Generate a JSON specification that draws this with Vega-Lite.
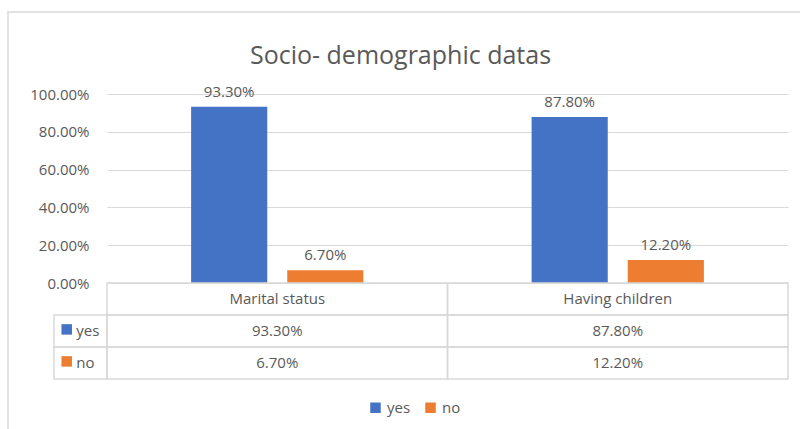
{
  "$schema": "https://vega.github.io/schema/vega-lite/v6.json",
  "width": 681,
  "height": 189,
  "autosize": {"type": "none"},
  "padding": {"left": 107, "top": 94, "right": 12, "bottom": 146},
  "background": "white",
  "title": {
    "text": "Socio- demographic datas",
    "font": "Open Sans",
    "fontSize": 25,
    "fontWeight": "normal",
    "color": "#595959",
    "anchor": "middle",
    "dx": -47,
    "offset": -58
  },
  "datasets": {
    "bars": [
      {"category": "Marital status", "answer": "yes", "value": 0.933},
      {"category": "Marital status", "answer": "no", "value": 0.067},
      {"category": "Having children", "answer": "yes", "value": 0.878},
      {"category": "Having children", "answer": "no", "value": 0.122}
    ],
    "header": [
      {"category": "Marital status", "row": "header"},
      {"category": "Having children", "row": "header"}
    ],
    "series": [
      {"answer": "yes"},
      {"answer": "no"}
    ],
    "frame": [
      {"part": "chart area"}
    ]
  },
  "config": {
    "view": {"stroke": null},
    "font": "Open Sans",
    "text": {"font": "Open Sans", "fontSize": 15, "color": "#595959", "fill": "#595959"}
  },
  "layer": [
    {
      "data": {"name": "frame"},
      "mark": {"type": "rect", "filled": false, "stroke": "#d9d9d9", "strokeWidth": 1.5},
      "encoding": {
        "x": {
          "field": "part",
          "type": "nominal",
          "scale": {"range": [-99, 701], "paddingInner": 0, "paddingOuter": 0},
          "axis": null
        },
        "y": {
          "field": "part",
          "type": "nominal",
          "scale": {"range": [-82, 345], "paddingInner": 0, "paddingOuter": 0},
          "axis": null
        }
      }
    },
    {
      "data": {"name": "bars"},
      "encoding": {
        "x": {
          "field": "category",
          "type": "nominal",
          "sort": ["Marital status", "Having children"],
          "scale": {"paddingInner": 0, "paddingOuter": 0},
          "axis": null
        },
        "xOffset": {
          "field": "answer",
          "type": "nominal",
          "sort": ["yes", "no"],
          "scale": {"paddingInner": 0.208, "paddingOuter": 0.875}
        },
        "y": {
          "field": "value",
          "type": "quantitative",
          "scale": {"domain": [0, 1], "nice": false},
          "axis": {
            "values": [0, 0.2, 0.4, 0.6, 0.8, 1],
            "format": ".2%",
            "title": null,
            "domain": false,
            "ticks": false,
            "grid": true,
            "gridColor": "#d9d9d9",
            "gridWidth": 1,
            "labelPadding": 18,
            "labelFont": "Open Sans",
            "labelFontSize": 15,
            "labelColor": "#595959"
          }
        }
      },
      "layer": [
        {
          "mark": {"type": "bar"},
          "encoding": {
            "color": {
              "field": "answer",
              "type": "nominal",
              "scale": {"domain": ["yes", "no"], "range": ["#4472C4", "#ED7D31"]},
              "legend": {
                "orient": "none",
                "legendX": 261,
                "legendY": 306,
                "direction": "horizontal",
                "title": null,
                "padding": 0,
                "symbolType": "square",
                "symbolSize": 110,
                "symbolStrokeWidth": 0,
                "labelFont": "Open Sans",
                "labelFontSize": 15,
                "labelColor": "#595959",
                "labelOffset": 4,
                "columnPadding": 12
              }
            }
          }
        },
        {
          "mark": {"type": "text", "baseline": "alphabetic", "dy": -10, "fontSize": 15, "color": "#595959"},
          "encoding": {
            "text": {"field": "value", "type": "quantitative", "format": ".2%"}
          }
        }
      ]
    },
    {
      "encoding": {
        "x": {
          "field": "category",
          "type": "nominal",
          "sort": ["Marital status", "Having children"],
          "scale": {"paddingInner": 0, "paddingOuter": 0},
          "axis": null
        },
        "y": {
          "field": "row",
          "type": "nominal",
          "scale": {"domain": ["header", "yes", "no"], "range": [189, 285], "paddingInner": 0, "paddingOuter": 0},
          "axis": null
        }
      },
      "layer": [
        {
          "data": {"name": "header"},
          "mark": {"type": "rect", "filled": false, "stroke": "#d9d9d9", "strokeWidth": 1.5},
          "encoding": {}
        },
        {
          "data": {"name": "header"},
          "mark": {"type": "text", "fontSize": 15, "color": "#595959", "baseline": "middle"},
          "encoding": {"text": {"field": "category", "type": "nominal"}}
        },
        {
          "data": {"name": "bars"},
          "transform": [{"calculate": "datum.answer", "as": "row"}],
          "mark": {"type": "rect", "filled": false, "stroke": "#d9d9d9", "strokeWidth": 1.5},
          "encoding": {}
        },
        {
          "data": {"name": "bars"},
          "transform": [{"calculate": "datum.answer", "as": "row"}],
          "mark": {"type": "text", "fontSize": 15, "color": "#595959", "baseline": "middle"},
          "encoding": {"text": {"field": "value", "type": "quantitative", "format": ".2%"}}
        }
      ]
    },
    {
      "data": {"name": "series"},
      "encoding": {
        "x": {
          "datum": "series",
          "type": "nominal",
          "scale": {"range": [-53, 0], "paddingInner": 0, "paddingOuter": 0},
          "axis": null
        },
        "y": {
          "field": "answer",
          "type": "nominal",
          "scale": {"domain": ["header", "yes", "no"], "range": [189, 285], "paddingInner": 0, "paddingOuter": 0},
          "axis": null
        }
      },
      "layer": [
        {
          "mark": {"type": "rect", "filled": false, "stroke": "#d9d9d9", "strokeWidth": 1.5},
          "encoding": {}
        },
        {
          "mark": {"type": "point", "shape": "square", "filled": true, "size": 110, "opacity": 1, "strokeWidth": 0},
          "encoding": {
            "x": {
              "datum": "series",
              "type": "nominal",
              "bandPosition": 0.24,
              "scale": {"range": [-53, 0], "paddingInner": 0, "paddingOuter": 0},
              "axis": null
            },
            "y": {
              "field": "answer",
              "type": "nominal",
              "bandPosition": 0.45,
              "scale": {"domain": ["header", "yes", "no"], "range": [189, 285], "paddingInner": 0, "paddingOuter": 0},
              "axis": null
            },
            "color": {
              "field": "answer",
              "type": "nominal",
              "scale": {"domain": ["yes", "no"], "range": ["#4472C4", "#ED7D31"]},
              "legend": null
            }
          }
        },
        {
          "mark": {"type": "text", "align": "left", "baseline": "middle", "fontSize": 15, "color": "#595959"},
          "encoding": {
            "x": {
              "datum": "series",
              "type": "nominal",
              "bandPosition": 0.42,
              "scale": {"range": [-53, 0], "paddingInner": 0, "paddingOuter": 0},
              "axis": null
            },
            "text": {"field": "answer", "type": "nominal"}
          }
        }
      ]
    }
  ],
  "resolve": {"scale": {"x": "independent", "y": "independent"}}
}
